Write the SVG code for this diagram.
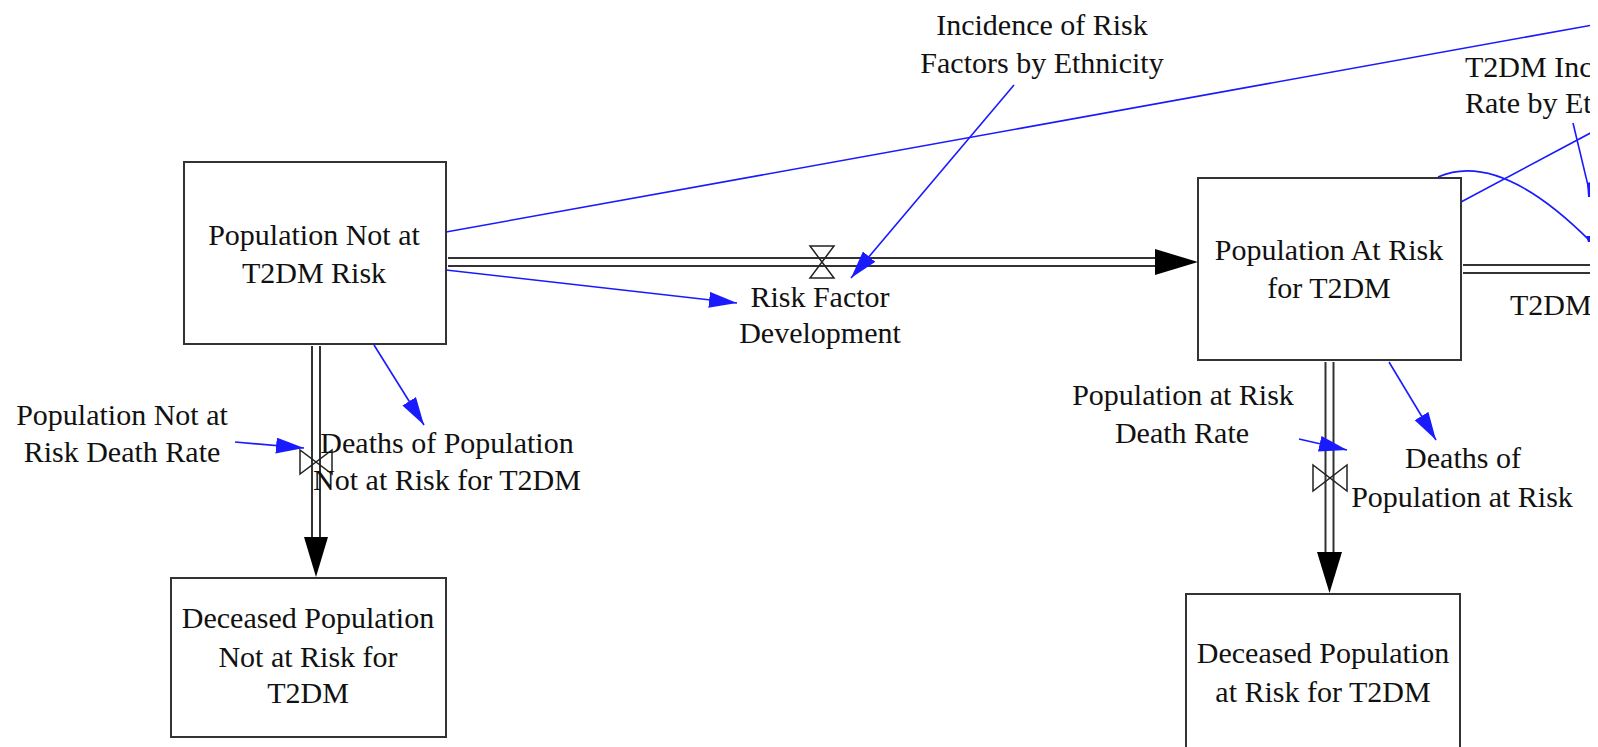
<svg xmlns="http://www.w3.org/2000/svg" width="1598" height="747" viewBox="0 0 1598 747">
  <style>
    .stock { fill: #ffffff; stroke: #333333; stroke-width: 2; }
    .lbl { font-family: "Liberation Serif", "Times New Roman", serif; font-size: 30px; fill: #111111; text-anchor: middle; }
    .lbl-start { text-anchor: start; }
    .pipe-outer { stroke: #333333; stroke-width: 10; fill: none; }
    .pipe-inner { stroke: #ffffff; stroke-width: 6; fill: none; }
    .pipe-head { fill: #000000; }
    .valve { fill: none; stroke: #222222; stroke-width: 1.5; stroke-linejoin: miter; }
    .link { stroke: #1a1aff; stroke-width: 1.6; fill: none; }
  </style>
  <defs>
    <marker id="blueHead" markerUnits="userSpaceOnUse" markerWidth="30" markerHeight="18" refX="28" refY="8" orient="auto">
      <path d="M0,0 L28,8 L0,16 Z" fill="#1a1aff"/>
    </marker>
    <clipPath id="frame">
      <rect x="0" y="0" width="1590" height="747"/>
    </clipPath>
  </defs>
  <rect x="0" y="0" width="1598" height="747" fill="#ffffff"/>

  <g clip-path="url(#frame)">
    <!-- material flows (pipes with valves) -->
    <g id="flows">
      <!-- Risk Factor Development pipe -->
      <line class="pipe-outer" x1="448" y1="262" x2="1160" y2="262"/>
      <line class="pipe-inner" x1="448" y1="262" x2="1160" y2="262"/>
      <polygon class="pipe-head" points="1155,249 1198,262 1155,275"/>
      <path class="valve" d="M810,246 L834,246 L810,278 L834,278 Z"/>

      <!-- outflow toward the right of Population At Risk -->
      <line class="pipe-outer" x1="1463" y1="269" x2="1598" y2="269"/>
      <line class="pipe-inner" x1="1463" y1="269" x2="1598" y2="269"/>

      <!-- deaths, not at risk -->
      <line class="pipe-outer" x1="316" y1="346" x2="316" y2="542"/>
      <line class="pipe-inner" x1="316" y1="346" x2="316" y2="542"/>
      <polygon class="pipe-head" points="304,537 316,577 328,537"/>
      <path class="valve" d="M300,450 L300,474 L332,450 L332,474 Z"/>

      <!-- deaths, at risk -->
      <line class="pipe-outer" x1="1329.5" y1="362" x2="1329.5" y2="557"/>
      <line class="pipe-inner" x1="1329.5" y1="362" x2="1329.5" y2="557"/>
      <polygon class="pipe-head" points="1317,552 1329.5,593 1342,552"/>
      <path class="valve" d="M1313,465 L1313,491 L1347,465 L1347,491 Z"/>
    </g>

    <!-- information links -->
    <g id="connectors">
      <line class="link" x1="446" y1="232" x2="1598" y2="24"/>
      <line class="link" x1="446" y1="270" x2="737" y2="303" marker-end="url(#blueHead)"/>
      <line class="link" x1="1014" y1="85" x2="851" y2="278" marker-end="url(#blueHead)"/>
      <line class="link" x1="374" y1="345" x2="424" y2="425" marker-end="url(#blueHead)"/>
      <line class="link" x1="235" y1="442" x2="304" y2="448" marker-end="url(#blueHead)"/>
      <line class="link" x1="1389" y1="362" x2="1436" y2="440" marker-end="url(#blueHead)"/>
      <line class="link" x1="1299" y1="439" x2="1347" y2="450" marker-end="url(#blueHead)"/>
      <line class="link" x1="1461" y1="202" x2="1598" y2="129"/>
      <line class="link" x1="1573" y1="123" x2="1591" y2="198"/>
      <polygon points="1587,183 1591,182 1591,197 1588,197" fill="#1a1aff"/>
      <path class="link" d="M1438,177 Q1500,150 1592,243"/>
      <polygon points="1586,236 1591,236 1591,242 1588,242" fill="#1a1aff"/>
    </g>

    <!-- stocks -->
    <g id="pop-not-at-risk">
      <rect class="stock" x="184" y="162" width="262" height="182"/>
      <text class="lbl" x="314" y="245">Population Not at</text>
      <text class="lbl" x="314" y="283">T2DM Risk</text>
    </g>
    <g id="pop-at-risk">
      <rect class="stock" x="1198" y="178" width="263" height="182"/>
      <text class="lbl" x="1329" y="260">Population At Risk</text>
      <text class="lbl" x="1329" y="298">for T2DM</text>
    </g>
    <g id="deceased-not-at-risk">
      <rect class="stock" x="171" y="578" width="275" height="159"/>
      <text class="lbl" x="308" y="628">Deceased Population</text>
      <text class="lbl" x="308" y="667">Not at Risk for</text>
      <text class="lbl" x="308" y="703">T2DM</text>
    </g>
    <g id="deceased-at-risk">
      <rect class="stock" x="1186" y="594" width="274" height="170"/>
      <text class="lbl" x="1323" y="663">Deceased Population</text>
      <text class="lbl" x="1323" y="702">at Risk for T2DM</text>
    </g>

    <!-- flow rates and auxiliaries -->
    <g id="risk-factor-development">
      <text class="lbl" x="820" y="307">Risk Factor</text>
      <text class="lbl" x="820" y="343">Development</text>
    </g>
    <g id="incidence-risk-factors">
      <text class="lbl" x="1042" y="35">Incidence of Risk</text>
      <text class="lbl" x="1042" y="73">Factors by Ethnicity</text>
    </g>
    <g id="t2dm-incidence-rate">
      <text class="lbl lbl-start" x="1465" y="77">T2DM Inc</text>
      <text class="lbl lbl-start" x="1465" y="113">Rate by Et</text>
    </g>
    <g id="t2dm-flow">
      <text class="lbl lbl-start" x="1510" y="315">T2DM</text>
    </g>
    <g id="not-at-risk-death-rate">
      <text class="lbl" x="122" y="425">Population Not at</text>
      <text class="lbl" x="122" y="462">Risk Death Rate</text>
    </g>
    <g id="deaths-not-at-risk">
      <text class="lbl" x="447" y="453">Deaths of Population</text>
      <text class="lbl" x="447" y="490">Not at Risk for T2DM</text>
    </g>
    <g id="at-risk-death-rate">
      <text class="lbl" x="1183" y="405">Population at Risk</text>
      <text class="lbl" x="1182" y="443">Death Rate</text>
    </g>
    <g id="deaths-at-risk">
      <text class="lbl" x="1463" y="468">Deaths of</text>
      <text class="lbl" x="1462" y="507">Population at Risk</text>
    </g>
  </g>
</svg>
